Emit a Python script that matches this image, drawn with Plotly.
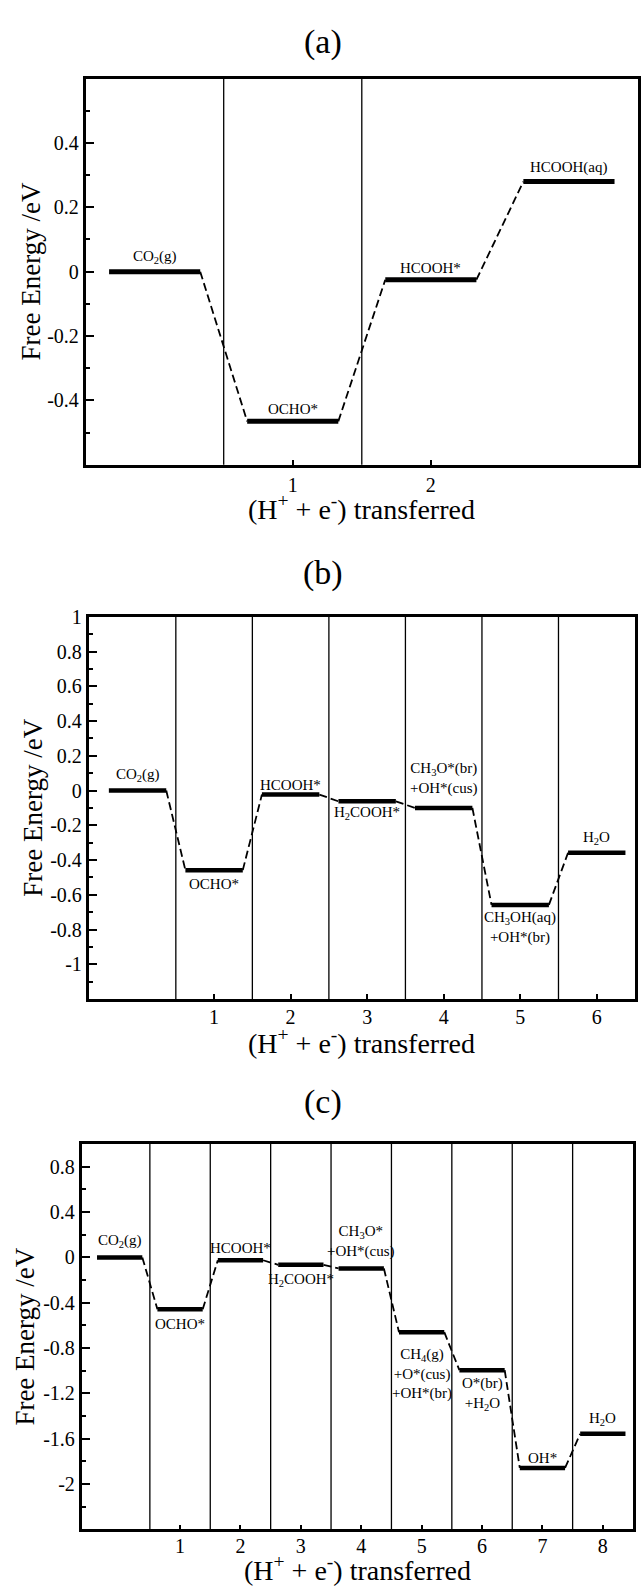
import plotly.graph_objects as go

# ---------------- data ----------------
a_steps = [0, 1, 2, 3]
a_energy = [0.0, -0.465, -0.025, 0.28]
a_labels = ["CO<sub>2</sub>(g)", "OCHO*", "HCOOH*", "HCOOH(aq)"]
a_label_shift = [15, 12, 12, 14]
a_xticks = [1, 2]
a_separators = [0.5, 1.5]

b_steps = [0, 1, 2, 3, 4, 5, 6]
b_energy = [0.0, -0.458, -0.023, -0.062, -0.10, -0.658, -0.358]
b_labels = ["CO<sub>2</sub>(g)", "OCHO*", "HCOOH*", "H<sub>2</sub>COOH*",
            "CH<sub>3</sub>O*(br)<br>+OH*(cus)", "CH<sub>3</sub>OH(aq)<br>+OH*(br)", "H<sub>2</sub>O"]
b_label_shift = [16, -14, 10, -12, 29, -23, 15]
b_xticks = [1, 2, 3, 4, 5, 6]
b_separators = [0.5, 1.5, 2.5, 3.5, 4.5, 5.5]

c_steps = [0, 1, 2, 3, 4, 5, 6, 7, 8]
c_energy = [0.0, -0.458, -0.025, -0.065, -0.097, -0.66, -0.995, -1.858, -1.557]
c_labels = ["CO<sub>2</sub>(g)", "OCHO*", "HCOOH*", "H<sub>2</sub>COOH*",
            "CH<sub>3</sub>O*<br>+OH*(cus)", "CH<sub>4</sub>(g)<br>+O*(cus)<br>+OH*(br)",
            "O*(br)<br>+H<sub>2</sub>O", "OH*", "H<sub>2</sub>O"]
c_label_shift = [16, -15, 12, -15, 27, -42, -24, 10, 15]
c_xticks = [1, 2, 3, 4, 5, 6, 7, 8]
c_separators = [0.5, 1.5, 2.5, 3.5, 4.5, 5.5, 6.5, 7.5]

a_yticks = [-0.4, -0.2, 0, 0.2, 0.4]
a_yticktext = ["-0.4", "-0.2", "0", "0.2", "0.4"]
a_yminor = [-0.5, -0.3, -0.1, 0.1, 0.3, 0.5]
b_yticks = [-1, -0.8, -0.6, -0.4, -0.2, 0, 0.2, 0.4, 0.6, 0.8, 1]
b_yticktext = ["-1", "-0.8", "-0.6", "-0.4", "-0.2", "0", "0.2", "0.4", "0.6", "0.8", "1"]
b_yminor = [-1.1, -0.9, -0.7, -0.5, -0.3, -0.1, 0.1, 0.3, 0.5, 0.7, 0.9]
c_yticks = [-2, -1.6, -1.2, -0.8, -0.4, 0, 0.4, 0.8]
c_yticktext = ["-2", "-1.6", "-1.2", "-0.8", "-0.4", "0", "0.4", "0.8"]
c_yminor = [-2.2, -1.8, -1.4, -1.0, -0.6, -0.2, 0.2, 0.6]

FONT = "Liberation Serif"
W, H = 641, 1586

panels = [
    dict(name="(a)", steps=a_steps, energy=a_energy, labels=a_labels, shifts=a_label_shift,
         xt=a_xticks, sep=a_separators, standoff=0,
         half=0.33, barw=5, xr=[-0.5, 3.5], yr=[-0.6, 0.6],
         yt=a_yticks, ytt=a_yticktext, ym=a_yminor,
         px=(86, 641), py=(68, 457), title_y=31, xtitle_y=500, ytitle_x=31),
    dict(name="(b)", steps=b_steps, energy=b_energy, labels=b_labels, shifts=b_label_shift,
         xt=b_xticks, sep=b_separators, standoff=-2,
         half=0.375, barw=4.5, xr=[-0.64, 6.5], yr=[-1.2, 1.0],
         yt=b_yticks, ytt=b_yticktext, ym=b_yminor,
         px=(89, 638), py=(610, 995), title_y=566, xtitle_y=1038, ytitle_x=33),
    dict(name="(c)", steps=c_steps, energy=c_energy, labels=c_labels, shifts=c_label_shift,
         xt=c_xticks, sep=c_separators, standoff=-3,
         half=0.375, barw=4.5, xr=[-0.63, 8.5], yr=[-2.4, 1.0],
         yt=c_yticks, ytt=c_yticktext, ym=c_yminor,
         px=(82, 636), py=(1141, 1529), title_y=1099, xtitle_y=1568, ytitle_x=25),
]

fig = go.Figure()
shapes = []
annotations = []
layout = {}

for i, p in enumerate(panels):
    k = "" if i == 0 else str(i + 1)
    xa, ya = "x" + k, "y" + k
    steps, energy, w = p["steps"], p["energy"], p["half"]

    # thick state bars
    bx, by = [], []
    for s, e in zip(steps, energy):
        bx += [s - w, s + w, None]
        by += [e, e, None]
    # dashed connectors
    dx, dy = [], []
    for j in range(len(steps) - 1):
        dx += [steps[j] + w, steps[j + 1] - w, None]
        dy += [energy[j], energy[j + 1], None]

    fig.add_trace(go.Scatter(x=dx, y=dy, mode="lines", xaxis=xa, yaxis=ya,
                             line=dict(color="black", width=1.8, dash="8px,4px"),
                             showlegend=False, hoverinfo="skip"))
    fig.add_trace(go.Scatter(x=bx, y=by, mode="lines", xaxis=xa, yaxis=ya,
                             line=dict(color="black", width=p["barw"]),
                             showlegend=False, hoverinfo="skip"))

    # step separators
    for s in p["sep"]:
        shapes.append(dict(type="line", xref=xa, yref=ya + " domain",
                           x0=s, x1=s, y0=0, y1=1,
                           line=dict(color="black", width=1.3), layer="below"))

    # state labels
    for s, e, lab, sh in zip(steps, energy, p["labels"], p["shifts"]):
        annotations.append(dict(x=s, y=e, xref=xa, yref=ya, text=lab, showarrow=False,
                                yshift=sh, xanchor="center", yanchor="middle",
                                font=dict(family=FONT, size=15, color="black")))

    x0, x1 = p["px"]
    y0, y1 = p["py"]
    xdom = [x0 / W, x1 / W]
    ydom = [1 - y1 / H, 1 - y0 / H]
    layout["xaxis" + k] = dict(domain=xdom, anchor=ya, range=p["xr"],
                               tickvals=p["xt"], ticktext=[str(t) for t in p["xt"]],
                               ticks="inside", ticklen=5, tickwidth=1.5, tickcolor="black",
                               ticklabelstandoff=p["standoff"],
                               showline=True, mirror=True, linewidth=2.5, linecolor="black",
                               showgrid=False, zeroline=False,
                               tickfont=dict(family=FONT, size=20, color="black"))
    layout["yaxis" + k] = dict(domain=ydom, anchor=xa, range=p["yr"],
                               tickvals=p["yt"], ticktext=p["ytt"],
                               ticks="inside", ticklen=9, tickwidth=1.5, tickcolor="black",
                               minor=dict(tickvals=p["ym"], ticks="inside", ticklen=5,
                                          tickwidth=1.5, tickcolor="black", showgrid=False),
                               showline=True, mirror=True, linewidth=2.5, linecolor="black",
                               showgrid=False, zeroline=False,
                               tickfont=dict(family=FONT, size=20, color="black"))

    # panel title
    annotations.append(dict(x=325 / W, y=1 - p["title_y"] / H, xref="paper", yref="paper",
                            text=p["name"], showarrow=False, xanchor="center", yanchor="middle",
                            font=dict(family=FONT, size=34, color="black")))
    # x-axis title
    annotations.append(dict(x=(x0 + x1) / 2 / W, y=1 - p["xtitle_y"] / H, xref="paper", yref="paper",
                            text="(H<sup>+</sup> + e<sup>-</sup>) transferred", showarrow=False,
                            xanchor="center", yanchor="middle",
                            font=dict(family=FONT, size=28, color="black")))
    # y-axis title
    annotations.append(dict(x=p["ytitle_x"] / W, y=1 - (y0 + y1) / 2 / H, xref="paper", yref="paper",
                            text="Free Energy /eV", showarrow=False, textangle=-90,
                            xanchor="center", yanchor="middle",
                            font=dict(family=FONT, size=27, color="black")))

fig.update_layout(width=W, height=H, margin=dict(l=0, r=0, t=0, b=0),
                  paper_bgcolor="white", plot_bgcolor="white",
                  font=dict(family=FONT, color="black"),
                  shapes=shapes, annotations=annotations, showlegend=False, **layout)

fig.write_html("out.html", config={"displayModeBar": False},
               post_script="document.body.style.margin='0';document.body.style.padding='0';")
